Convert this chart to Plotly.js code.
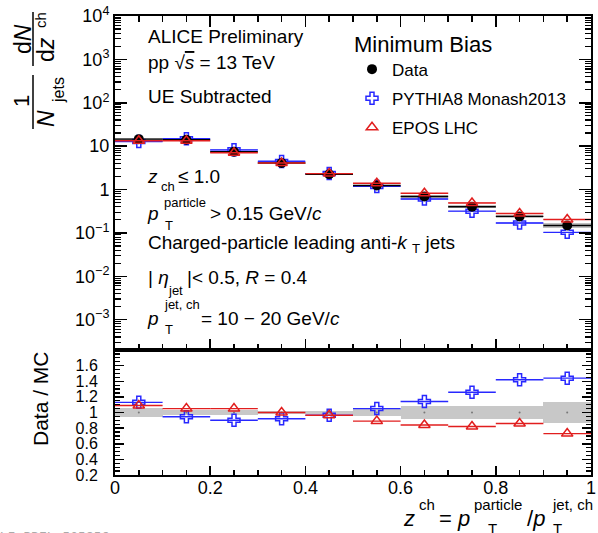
<!DOCTYPE html>
<html>
<head>
<meta charset="utf-8">
<script src="https://cdn.plot.ly/plotly-3.0.1.min.js"></script>
<style>html,body{margin:0;padding:0;background:#fff;}#chart{width:598px;height:533px;}</style>
</head>
<body>
<div id="chart"></div>
<script>
// ---------------- data ----------------
const binCenters = [0.05, 0.15, 0.25, 0.35, 0.45, 0.55, 0.65, 0.75, 0.85, 0.95];
const binHalfWidths = [0.05, 0.05, 0.05, 0.05, 0.05, 0.05, 0.05, 0.05, 0.05, 0.05];
const dataVals = [14.5, 14.0, 7.4, 4.1, 2.25, 1.24, 0.69, 0.40, 0.24, 0.148];
const dataSysRel = [0.06, 0.035, 0.035, 0.02, 0.02, 0.05, 0.085, 0.085, 0.085, 0.13];
const pythiaVals = [12.8, 14.8, 8.2, 4.45, 2.33, 1.18, 0.605, 0.317, 0.169, 0.103];
const pythiaUncRel = [0.04, 0.04, 0.05, 0.05, 0.03, 0.03, 0.03, 0.03, 0.03, 0.03];
const eposVals = [13.3, 13.3, 7.05, 4.1, 2.33, 1.39, 0.82, 0.49, 0.28, 0.203];
const eposUncRel = [0.025, 0.025, 0.025, 0.025, 0.025, 0.025, 0.025, 0.025, 0.025, 0.025];
const ratioPythia = [1.13, 0.945, 0.90, 0.92, 0.965, 1.05, 1.14, 1.26, 1.42, 1.44];
const ratioEpos = [1.09, 1.05, 1.05, 1.0, 0.965, 0.89, 0.84, 0.82, 0.86, 0.73];
const ratioOne = [1, 1, 1, 1, 1, 1, 1, 1, 1, 1];
const topTickVals = [1e-3, 1e-2, 1e-1, 1, 10, 1e2, 1e3, 1e4];
const topTickText = ['10<sup>\u22123</sup>', '10<sup>\u22122</sup>', '10<sup>\u22121</sup>', '1', '10', '10<sup>2</sup>', '10<sup>3</sup>', '10<sup>4</sup>'];
const ratioTickVals = [0.2, 0.4, 0.6, 0.8, 1.0, 1.2, 1.4, 1.6];
const ratioTickText = ['0.2', '0.4', '0.6', '0.8', '1', '1.2', '1.4', '1.6'];
const xTickVals = [0, 0.2, 0.4, 0.6, 0.8, 1];
const xTickText = ['0', '0.2', '0.4', '0.6', '0.8', '1'];

// --------------- geometry helpers ---------------
const ML = 115, MT = 16, PW = 476, PH = 459;
const px = v => (v - ML) / PW;
const py = v => 1 - (v - MT) / PH;
const FONT = 'Liberation Sans, Arial, Helvetica, sans-serif';
const splitFrac = 0.2723;

const BLUE = 'rgb(40,40,255)';
const RED = 'rgb(225,30,30)';

function band(vals, rel, ax, color) {
  return {
    type: 'bar', x: binCenters,
    base: vals.map((v, i) => v * (1 - rel[i])),
    y: vals.map((v, i) => 2 * v * rel[i]),
    width: binHalfWidths.map(w => 2 * w),
    marker: {color: color, line: {width: 0}},
    xaxis: 'x', yaxis: ax, showlegend: false, hoverinfo: 'skip'
  };
}
function series(vals, name, sym, color, size, ax, legend, rank, filled) {
  return {
    type: 'scatter', mode: 'markers', x: binCenters, y: vals, name: name,
    xaxis: ax === 'y' ? 'x' : 'x2', yaxis: ax,
    marker: {symbol: sym, size: size, color: color, line: {color: color, width: filled ? 0 : 1.5}},
    error_x: {type: 'data', array: binHalfWidths, width: 0, thickness: 1.4, color: color},
    showlegend: legend, legendgroup: name, legendrank: rank
  };
}

const traces = [
  band(dataVals, dataSysRel, 'y', 'rgba(140,140,140,0.55)'),
  band(pythiaVals, pythiaUncRel, 'y', 'rgba(90,90,255,0.45)'),
  band(eposVals, eposUncRel, 'y', 'rgba(240,90,90,0.45)'),
  series(pythiaVals, 'PYTHIA8 Monash2013', 'cross-open', BLUE, 10, 'y', true, 2, false),
  series(dataVals, 'Data', 'circle', 'black', 10, 'y', true, 1, true),
  series(eposVals, 'EPOS LHC', 'triangle-up-open', RED, 10, 'y', true, 3, false),
  Object.assign(band(ratioOne, dataSysRel, 'y2', 'rgb(200,200,200)'), {xaxis: 'x2'}),
  {type: 'scatter', mode: 'markers', x: binCenters, y: ratioOne, xaxis: 'x2', yaxis: 'y2',
   marker: {size: 2, color: 'rgb(120,120,120)'}, showlegend: false, hoverinfo: 'skip'},
  series(ratioPythia, 'PYTHIA8 Monash2013 ratio', 'cross-open', BLUE, 10, 'y2', false, 5, false),
  series(ratioEpos, 'EPOS LHC ratio', 'triangle-up-open', RED, 10, 'y2', false, 6, false)
];

// minor ticks for the log axis
const logMinor = [];
for (let e = -4; e <= 3; e++) for (let m = 2; m <= 9; m++) logMinor.push(m * Math.pow(10, e));

const axCommon = {
  showgrid: false, zeroline: false, showline: true, linecolor: 'black', linewidth: 2,
  ticks: 'inside', tickcolor: 'black', tickwidth: 1.5, mirror: 'allticks',
  tickfont: {family: FONT, size: 18, color: 'black'}
};

function ann(text, xpx, ypx, size, opts) {
  return Object.assign({
    text: text, x: px(xpx), y: py(ypx), xref: 'paper', yref: 'paper',
    showarrow: false, xanchor: 'left', yanchor: 'middle',
    font: {family: FONT, size: size, color: 'black'}
  }, opts || {});
}
const rot = {textangle: -90, xanchor: 'center', yanchor: 'middle'};

const annotations = [
  ann('ALICE Preliminary', 146, 37, 19),
  ann('pp \u221A<span style="text-decoration:overline"><i>s</i></span> = 13 TeV', 146, 62, 19),
  ann('UE Subtracted', 146, 96, 19),
  ann('<i>z</i>', 145, 176, 19),
  ann('ch', 159, 186, 13),
  ann('\u2264 1.0', 176, 176, 19),
  ann('<i>p</i>', 145, 213, 19),
  ann('particle', 162, 202, 13),
  ann('T', 163, 226, 13),
  ann('> 0.15 GeV/<i>c</i>', 208, 213, 19),
  ann('Charged-particle leading anti-<i>k</i> <sub>T</sub> jets', 146, 244, 19),
  ann('| <i>\u03B7</i>', 146, 277, 19),
  ann('jet', 166, 290, 13),
  ann('|< 0.5, <i>R</i> = 0.4', 185, 277, 19),
  ann('<i>p</i>', 145, 318, 19),
  ann('jet, ch', 162, 304, 13),
  ann('T', 163, 329, 13),
  ann('= 10 \u2212 20 GeV/<i>c</i>', 199, 318, 19),
  // y-axis title (top)
  ann('1', 22, 101, 22, rot),
  ann('<i>N</i>', 46, 119, 23, rot),
  ann('jets', 59, 90, 16, rot),
  ann('d<i>N</i>', 23, 39, 23, rot),
  ann('d<i>z</i>', 46, 50, 23, rot),
  ann('ch', 40, 20, 15, rot),
  // y-axis title (ratio)
  ann('Data / MC', 40, 399, 21, rot),
  // x-axis title
  ann('<i>z</i>', 401, 518, 22),
  ann('ch', 417, 504, 15),
  ann('= <i>p</i>', 437, 518, 22),
  ann('particle', 472, 504, 15),
  ann('T', 486, 528, 15),
  ann('/<i>p</i>', 525, 518, 22),
  ann('jet, ch', 550, 504, 15),
  ann('T', 551, 528, 15),
  // watermark
  ann('ALI-PREL-505956', 111, 536, 13, {xanchor: 'right', font: {family: 'DejaVu Sans Mono, monospace', size: 13, color: '#aaa'}})
];

const shapes = [
  {type: 'line', xref: 'paper', yref: 'paper', x0: px(33), x1: px(33), y0: py(75), y1: py(129), line: {color: 'black', width: 1.5}},
  {type: 'line', xref: 'paper', yref: 'paper', x0: px(33), x1: px(33), y0: py(12), y1: py(66), line: {color: 'black', width: 1.5}}
];

const layout = {
  width: 598, height: 533,
  margin: {l: ML, r: 598 - ML - PW, t: MT, b: 533 - MT - PH, pad: 0},
  paper_bgcolor: 'white', plot_bgcolor: 'white',
  font: {family: FONT, color: 'black'},
  barmode: 'overlay', bargap: 0,
  showlegend: true,
  legend: {
    x: px(352), y: py(23), xanchor: 'left', yanchor: 'top',
    bgcolor: 'rgba(0,0,0,0)', borderwidth: 0,
    font: {family: FONT, size: 17, color: 'black'},
    title: {text: 'Minimum Bias', font: {family: FONT, size: 22, color: 'black'}},
    traceorder: 'grouped', tracegroupgap: 4
  },
  xaxis: Object.assign({}, axCommon, {
    domain: [0, 1], range: [0, 1], anchor: 'y', showticklabels: false,
    tickmode: 'array', tickvals: xTickVals, ticklen: 11,
    minor: {tickmode: 'linear', tick0: 0, dtick: 0.05, ticks: 'inside', ticklen: 6, tickcolor: 'black', tickwidth: 1.5, showgrid: false}
  }),
  yaxis: Object.assign({}, axCommon, {
    domain: [splitFrac, 1], type: 'log', range: [-3.70, 4], anchor: 'x',
    tickmode: 'array', tickvals: topTickVals, ticktext: topTickText, ticklen: 12,
    minor: {tickmode: 'array', tickvals: logMinor, ticks: 'inside', ticklen: 6, tickcolor: 'black', tickwidth: 1.2, showgrid: false}
  }),
  xaxis2: Object.assign({}, axCommon, {
    domain: [0, 1], range: [0, 1], anchor: 'y2', mirror: true,
    tickmode: 'array', tickvals: xTickVals, ticktext: xTickText, ticklen: 9,
    ticklabelstandoff: -5,
    minor: {tickmode: 'linear', tick0: 0, dtick: 0.05, ticks: 'inside', ticklen: 5, tickcolor: 'black', tickwidth: 1.5, showgrid: false}
  }),
  yaxis2: Object.assign({}, axCommon, {
    domain: [0, splitFrac], range: [0.2, 1.8], anchor: 'x2',
    tickmode: 'array', tickvals: ratioTickVals, ticktext: ratioTickText, ticklen: 9,
    tickfont: {family: FONT, size: 16, color: 'black'}, ticklabelstandoff: 12,
    minor: {tickmode: 'linear', tick0: 0.2, dtick: 0.05, ticks: 'inside', ticklen: 5, tickcolor: 'black', tickwidth: 1.2, showgrid: false}
  }),
  annotations: annotations,
  shapes: shapes
};

Plotly.newPlot('chart', traces, layout, {staticPlot: true, displayModeBar: false});
</script>
</body>
</html>
